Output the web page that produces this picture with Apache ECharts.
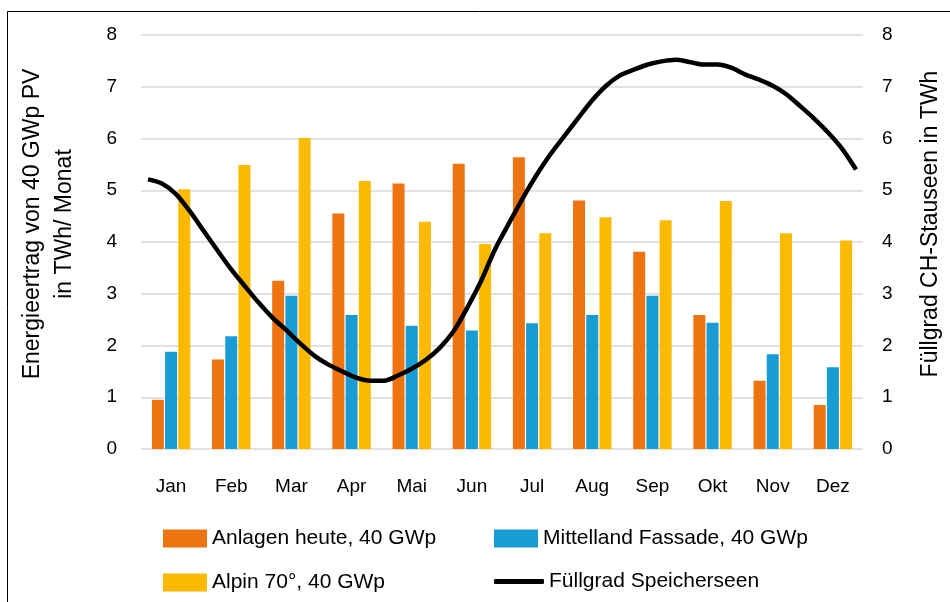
<!DOCTYPE html>
<html>
<head>
<meta charset="utf-8">
<script src="https://cdn.jsdelivr.net/npm/echarts@6/dist/echarts.min.js"></script>
<style>
html,body{margin:0;padding:0;background:#fff;}
#chart{width:950px;height:602px;}
</style>
</head>
<body>
<div id="chart"></div>
<script>
const months = ['Jan','Feb','Mar','Apr','Mai','Jun','Jul','Aug','Sep','Okt','Nov','Dez'];
const yTicks = [0,1,2,3,4,5,6,7,8];
const anlagenHeute = [0.95,1.73,3.25,4.55,5.13,5.51,5.64,4.80,3.81,2.59,1.32,0.85];
const mittellandFassade = [1.88,2.18,2.96,2.59,2.38,2.29,2.43,2.59,2.96,2.44,1.83,1.58];
const alpin70 = [5.02,5.49,6.01,5.18,4.39,3.96,4.17,4.48,4.42,4.79,4.17,4.03];
const weeks = Array.from({length:52}, (_, i) => 'W' + (i + 1));
const fuellgrad = [5.21,5.13,4.93,4.60,4.22,3.84,3.47,3.14,2.82,2.53,2.29,2.03,1.80,1.63,1.50,1.38,1.32,1.32,1.42,1.55,1.72,1.95,2.27,2.73,3.25,3.86,4.36,4.85,5.30,5.70,6.05,6.40,6.74,7.02,7.22,7.33,7.43,7.49,7.52,7.48,7.43,7.43,7.37,7.24,7.14,7.02,6.85,6.62,6.38,6.11,5.80,5.40];
const seriesNames = ['Anlagen heute, 40 GWp','Mittelland Fassade, 40 GWp','Alpin 70°, 40 GWp','Füllgrad Speicherseen'];
const colors = ['#ee7311','#199bd3','#fbb900','#000000'];

const FONT = '"Liberation Sans", Arial, sans-serif';
const chart = echarts.init(document.getElementById('chart'), null, {renderer:'canvas'});

function legendAt(item, left, top, extra) {
  return Object.assign({
    data:[item], left:left, top:top, itemWidth:44, itemHeight:18, itemGap:0,
    textStyle:{fontFamily:FONT, fontSize:21, color:'#000'},
    padding:0, selectedMode:false
  }, extra||{});
}

chart.setOption({
  animation:false,
  backgroundColor:'#fff',
  color: colors,
  textStyle:{fontFamily:FONT},
  graphic:[{type:'rect', shape:{x:7.5, y:11.5, width:1000, height:1000}, style:{fill:'none', stroke:'#000', lineWidth:1}, silent:true}],
  grid:{left:141, right:81, top:35, bottom:153, containLabel:false},
  legend:[
    legendAt({name:seriesNames[0], icon:'rect'}, 163, 528),
    legendAt({name:seriesNames[1], icon:'rect'}, 494, 528),
    legendAt({name:seriesNames[2], icon:'rect'}, 163, 572),
    legendAt({name:seriesNames[3], icon:'roundRect'}, 494, 571, {itemWidth:50, itemHeight:5})
  ],
  xAxis:[
    {type:'category', data:months, boundaryGap:true,
     axisLine:{show:false}, axisTick:{show:false},
     axisLabel:{fontSize:19, color:'#000', margin:28, fontFamily:FONT}},
    {type:'category', data:weeks, boundaryGap:true, show:false}
  ],
  yAxis:[
    {type:'value', min:0, max:8, interval:1,
     axisLine:{show:false}, axisTick:{show:false},
     axisLabel:{fontSize:19, color:'#000', margin:24, fontFamily:FONT, formatter:v=>yTicks.includes(v)?String(v):''},
     splitLine:{lineStyle:{color:'#d9d9d9', width:1.5}},
     name:'Energieertrag von 40 GWp PV\nin TWh/ Monat', nameLocation:'middle', nameRotate:90, nameGap:60,
     nameTextStyle:{fontSize:23, color:'#000', lineHeight:32, fontFamily:FONT, padding:[0,0,0,36]}},
    {type:'value', min:0, max:8, interval:1, position:'right',
     axisLine:{show:false}, axisTick:{show:false}, splitLine:{show:false},
     axisLabel:{fontSize:19, color:'#000', margin:19, fontFamily:FONT, formatter:v=>yTicks.includes(v)?String(v):''},
     name:'Füllgrad CH-Stauseen in TWh', nameLocation:'middle', nameRotate:90, nameGap:56,
     nameTextStyle:{fontSize:23, color:'#000', fontFamily:FONT, padding:[0,0,0,36]}}
  ],
  series:[
    {name:seriesNames[0], type:'bar', data:anlagenHeute, barWidth:12, barGap:'10%', itemStyle:{color:colors[0]}},
    {name:seriesNames[1], type:'bar', data:mittellandFassade, barWidth:12, barGap:'10%', itemStyle:{color:colors[1]}},
    {name:seriesNames[2], type:'bar', data:alpin70, barWidth:12, barGap:'10%', itemStyle:{color:colors[2]}},
    {name:seriesNames[3], type:'line', data:fuellgrad, xAxisIndex:1, yAxisIndex:1, smooth:0.3,
     symbol:'none', lineStyle:{color:'#000', width:4.5}, itemStyle:{color:'#000'}, z:5}
  ]
});
</script>
</body>
</html>
